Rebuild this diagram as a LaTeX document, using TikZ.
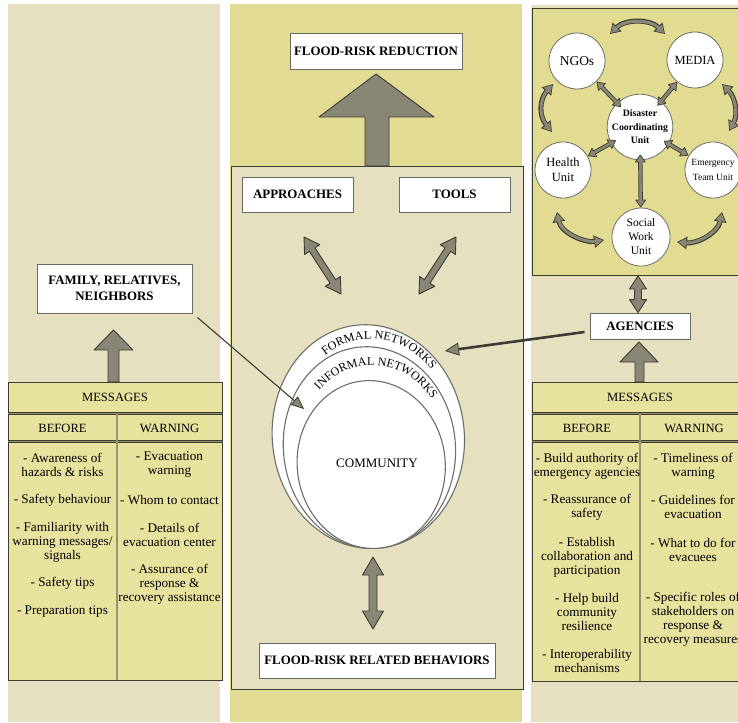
\documentclass[tikz,border=0pt]{standalone}
\usepackage{fontspec}
\setmainfont{Liberation Serif}
\usetikzlibrary{arrows.meta,calc,decorations.text}
\definecolor{colbeige}{RGB}{229,224,192}
\definecolor{colyellow}{RGB}{225,219,148}
\definecolor{tabyellow}{RGB}{231,226,158}
\definecolor{clusteryellow}{RGB}{226,220,146}
\definecolor{arrowgray}{RGB}{136,135,118}
\definecolor{darkline}{RGB}{60,60,50}
\definecolor{boxgray}{RGB}{105,105,95}
\definecolor{ellgray}{RGB}{110,110,105}
\definecolor{sepmid}{RGB}{150,148,110}
\newcommand\myfs[2]{\fontsize{#1}{#2}\selectfont}
% fat double-headed arrow: [opts] #2 from, #3 to, #4 half shaft, #5 half head, #6 head length
\newcommand\fatdbl[6][]{%
  \draw[fatarrow,#1] let \p1=($(#3)-(#2)$), \n1={veclen(\x1,\y1)}, \n2={atan2(\y1,\x1)} in
   ([shift={(#2)},rotate=\n2]0,0)
   -- ([shift={(#2)},rotate=\n2]#6,#5)
   -- ([shift={(#2)},rotate=\n2]#6,#4)
   -- ([shift={(#2)},rotate=\n2]\n1-#6,#4)
   -- ([shift={(#2)},rotate=\n2]\n1-#6,#5)
   -- ([shift={(#2)},rotate=\n2]\n1,0)
   -- ([shift={(#2)},rotate=\n2]\n1-#6,-#5)
   -- ([shift={(#2)},rotate=\n2]\n1-#6,-#4)
   -- ([shift={(#2)},rotate=\n2]#6,-#4)
   -- ([shift={(#2)},rotate=\n2]#6,-#5)
   -- cycle;}
\tikzset{
  lbl/.style={draw=boxgray, line width=0.9pt, fill=white, font=\bfseries\myfs{12.9}{15.5}, align=center, inner sep=0pt},
  tabtxt/.style={font=\myfs{13.2}{14}, align=center, inner sep=0pt},
  tabhead/.style={font=\myfs{12.6}{14}, inner sep=0pt},
  tabframe/.style={draw=darkline, line width=1pt, fill=tabyellow},
  tabsep/.style={draw=darkline, line width=0.8pt, double=sepmid, double distance=1.2pt},
  panel/.style={draw=darkline, line width=1pt, fill=colbeige},
  fatarrow/.style={draw=darkline, fill=arrowgray, line width=0.9pt, line join=round},
  ell/.style={draw=ellgray, line width=1.1pt, fill=white},
  circ/.style={circle, draw=ellgray, line width=0.8pt, fill=white, minimum size=56pt, inner sep=0pt, align=center},
  thinarr/.style={draw=darkline, line width=1.1pt, -{Triangle[length=13pt,width=11pt,fill=arrowgray,line width=0.8pt]}},
  dblarr/.style={draw=darkline, line width=2.6pt, -{Triangle[length=14pt,width=13pt,fill=arrowgray,line width=0.8pt]}},
  curvout/.style={draw=darkline, line width=5pt, {Triangle[length=10pt,width=12pt]}-{Triangle[length=10pt,width=12pt]}},
  curvin/.style={draw=arrowgray, line width=3pt, shorten <=1.5pt, shorten >=1.5pt, {Triangle[length=7.5pt,width=9pt]}-{Triangle[length=7.5pt,width=9pt]}},
  arctext/.style={decorate, decoration={text along path, text align=center, text={|\myfs{12}{12}|#1}}}
}
\begin{document}
\begin{tikzpicture}[x=1pt,y=-1pt]
\useasboundingbox (0,0) rectangle (738,722);
\clip (0,0) rectangle (738,722);
% column backgrounds
\fill[colbeige] (8,4) rectangle (220,722);
\fill[colyellow] (230,4) rectangle (522,722);
\fill[colbeige] (531,5) rectangle (745,722);
% centre panel
\draw[panel] (231,167) rectangle (523,689);
% agencies cluster panel
\draw[panel, fill=clusteryellow] (532,9) rectangle (745,275);

% top: flood-risk reduction
\node[lbl, minimum width=172pt, minimum height=36pt] (frr) at (376,51) {FLOOD-RISK REDUCTION};
\draw[fatarrow] (365,166) -- (365,117) -- (319,117) -- (376,74) -- (434,117) -- (389,117) -- (389,166) -- cycle;

\node[lbl, minimum width=111pt, minimum height=35pt] (appr) at (297.5,194.5) {APPROACHES};
\node[lbl, minimum width=111pt, minimum height=35pt] (tools) at (454.5,194.5) {TOOLS};

% nested ellipses
\begin{scope}[shift={(368.3,436.6)}, rotate=6]
  \draw[ell] (0,0) ellipse [x radius=96, y radius=112];
\end{scope}
\path[arctext={FORMAL NETWORKS}] (371,437) ++(200:83 and 98) arc [start angle=200, end angle=352, x radius=83, y radius=98];
\begin{scope}[shift={(369.4,447.6)}, rotate=6]
  \draw[ell] (0,0) ellipse [x radius=86, y radius=101];
\end{scope}
\path[arctext={INFORMAL NETWORKS}] (372,449) ++(195:74 and 84) arc [start angle=195, end angle=353, x radius=74, y radius=84];
\begin{scope}[shift={(371.2,464.5)}, rotate=6]
  \draw[ell] (0,0) ellipse [x radius=74, y radius=84];
\end{scope}
\node[font=\myfs{13}{15}, inner sep=0pt] (comm) at (377,463) {COMMUNITY};

% arrows approaches/tools <-> networks
\coordinate (apA) at (304,237); \coordinate (apB) at (341,294);
\coordinate (toA) at (456,237); \coordinate (toB) at (419,294);
\fatdbl{apA}{apB}{3.3}{9}{15}
\fatdbl{toA}{toB}{3.3}{9}{15}

% bottom
\node[lbl, minimum width=236pt, minimum height=35pt] (frb) at (377,660.5) {FLOOD-RISK RELATED BEHAVIORS};
\coordinate (bhA) at (373,557); \coordinate (bhB) at (373,629);
\fatdbl{bhA}{bhB}{4}{10.5}{18}

% family box
\node[lbl, minimum width=155pt, minimum height=49pt] (fam) at (114.5,288.5) {FAMILY, RELATIVES,\\NEIGHBORS};
\coordinate (famS) at ($(fam.south east)+(5,4)$);
\coordinate (famT) at (304,409);
\draw[thinarr] (famS) -- (famT);
\draw[fatarrow] (108,382) -- (108,350) -- (94,350) -- (113.5,330) -- (133,350) -- (119,350) -- (119,382) -- cycle;

% agencies
\node[lbl, minimum width=100pt, minimum height=26pt] (agen) at (640,326) {AGENCIES};
\coordinate (agS) at ($(agen.west)+(-5,6)$);
\coordinate (agT) at (445,351);
\draw[dblarr] (agS) -- (agT);
\coordinate (agA) at (638,276); \coordinate (agB) at ($(agen.north)+(-2,0)$);
\fatdbl{agA}{agB}{3.5}{8.5}{13}
\draw[fatarrow] (635,382) -- (635,362) -- (620,362) -- (639,342) -- (658,362) -- (644,362) -- (644,382) -- cycle;

% left messages table
\draw[tabframe] (8,382) rectangle (222,680);
\draw[tabsep] (8,413.5) -- (222,413.5);
\draw[tabsep] (8,441.5) -- (222,441.5);
\draw[tabsep] (117,413.5) -- (117,680);
\node[tabhead] (lmsg) at (115,397) {MESSAGES};
\node[tabhead] (lbef) at (62.5,428) {BEFORE};
\node[tabhead] (lwar) at (169.5,428) {WARNING};
\node[tabtxt] (lb1) at (62.5,465) {- Awareness of\\hazards \& risks};
\node[tabtxt] (lb2) at (62.5,500) {- Safety behaviour};
\node[tabtxt] (lb3) at (62.5,542) {- Familiarity with\\warning messages/\\signals};
\node[tabtxt] (lb4) at (62.5,583) {- Safety tips};
\node[tabtxt] (lb5) at (62.5,612) {- Preparation tips};
\node[tabtxt] (lw1) at (169.5,465) {- Evacuation\\warning};
\node[tabtxt] (lw2) at (169.5,500) {- Whom to contact};
\node[tabtxt] (lw3) at (169.5,534.5) {- Details of\\evacuation center};
\node[tabtxt] (lw4) at (169.5,584) {- Assurance of\\response \&\\recovery assistance};

% right messages table
\draw[tabframe] (532,382) rectangle (748,681);
\draw[tabsep] (532,413.5) -- (748,413.5);
\draw[tabsep] (532,441.5) -- (748,441.5);
\draw[tabsep] (640,413.5) -- (640,681);
\node[tabhead] (rmsg) at (640,397) {MESSAGES};
\node[tabhead] (rbef) at (587,428) {BEFORE};
\node[tabhead] (rwar) at (694,428) {WARNING};
\node[tabtxt] (rb1) at (587,466) {- Build authority of\\emergency agencies};
\node[tabtxt] (rb2) at (587,507) {- Reassurance of\\safety};
\node[tabtxt] (rb3) at (587,557) {- Establish\\collaboration and\\participation};
\node[tabtxt] (rb4) at (587,612) {- Help build\\community\\resilience};
\node[tabtxt] (rb5) at (587,661) {- Interoperability\\mechanisms};
\node[tabtxt] (rw1) at (693,466) {- Timeliness of\\warning};
\node[tabtxt] (rw2) at (693,507) {- Guidelines for\\evacuation};
\node[tabtxt] (rw3) at (693,550) {- What to do for\\evacuees};
\node[tabtxt] (rw4) at (693,619) {- Specific roles of\\stakeholders on\\response \&\\recovery measures};

% agencies cluster: curved arrows
\coordinate (ct1) at (610,34);  \coordinate (ct2) at (665,34);
\coordinate (cl1) at (553,84);  \coordinate (cl2) at (552,132);
\coordinate (cr1) at (722,84);  \coordinate (cr2) at (729,131);
\coordinate (cb1) at (557,212); \coordinate (cb2) at (604,240);
\coordinate (cc1) at (677,242); \coordinate (cc2) at (722,212);
\foreach \s in {curvout,curvin}{
  \draw[\s] (ct1) .. controls (625,19) and (650,19) .. (ct2);
  \draw[\s] (cl1) .. controls (539,100) and (539,116) .. (cl2);
  \draw[\s] (cr1) .. controls (736,98) and (738,115) .. (cr2);
  \draw[\s] (cb1) .. controls (561,233) and (585,243) .. (cb2);
  \draw[\s] (cc1) .. controls (697,244) and (718,233) .. (cc2);
}
% circles
\node[circ, font=\myfs{13.5}{15}] (ngo) at (577,61) {NGOs};
\node[circ, font=\myfs{12.5}{15}] (media) at (695,60) {MEDIA};
\node[circ, minimum size=54pt, font=\bfseries\myfs{9.8}{13.5}] (dcu) at (640,127) {Disaster\\Coordinating\\Unit};
\node[circ, font=\myfs{12.5}{15}] (health) at (563,170) {Health\\Unit};
\node[circ, font=\myfs{9.5}{14.5}] (emer) at (713,170) {Emergency\\Team Unit};
\node[circ, minimum size=58pt, font=\myfs{11.5}{14}] (social) at (641,237) {Social\\Work\\Unit};
% straight arrows to the coordinating unit
\coordinate (n1) at ($(ngo)!29pt!(dcu)$);    \coordinate (n2) at ($(dcu)!28pt!(ngo)$);
\coordinate (m1) at ($(media)!29pt!(dcu)$);  \coordinate (m2) at ($(dcu)!28pt!(media)$);
\coordinate (h1) at ($(health)!29pt!(dcu)$); \coordinate (h2) at ($(dcu)!28pt!(health)$);
\coordinate (e1) at ($(emer)!29pt!(dcu)$);   \coordinate (e2) at ($(dcu)!28pt!(emer)$);
\coordinate (s1) at ($(social)!30pt!(dcu)$); \coordinate (s2) at ($(dcu)!28pt!(social)$);
\fatdbl[line width=0.7pt]{n1}{n2}{1.8}{5}{7}
\fatdbl[line width=0.7pt]{m1}{m2}{1.8}{5}{7}
\fatdbl[line width=0.7pt]{h1}{h2}{1.8}{5}{7}
\fatdbl[line width=0.7pt]{e1}{e2}{1.8}{5}{7}
\fatdbl[line width=0.7pt]{s1}{s2}{1.8}{5}{7}
\end{tikzpicture}
\end{document}
